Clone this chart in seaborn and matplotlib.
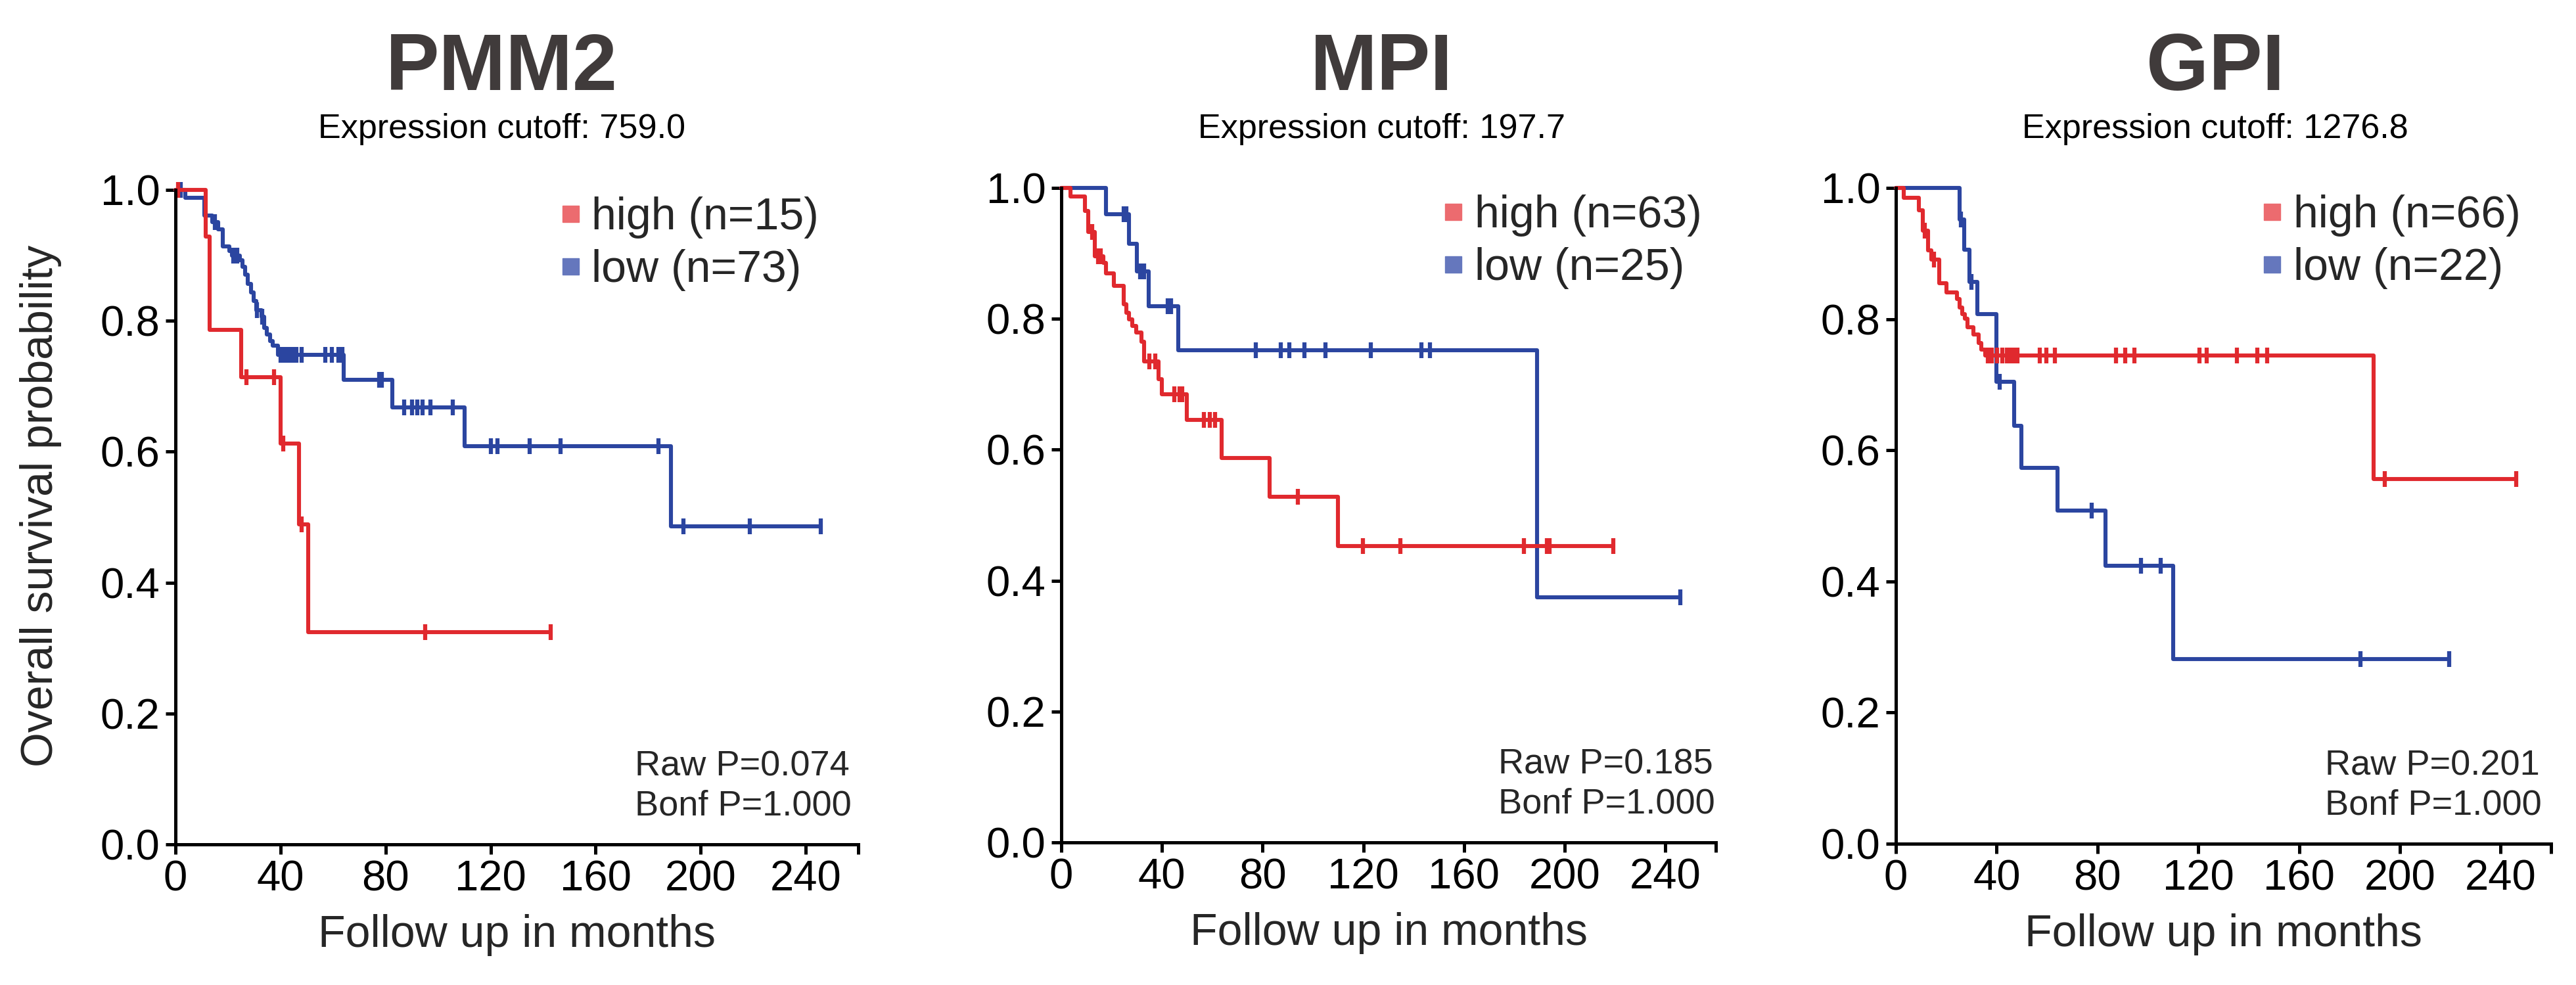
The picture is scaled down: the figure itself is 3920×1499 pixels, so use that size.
import numpy as np
import matplotlib.pyplot as plt
import seaborn as sns
from matplotlib.lines import Line2D

# ================================
# DATA
# ================================

genes = ["PMM2", "MPI", "GPI"]
cutoffs = ["759.0", "197.7", "1276.8"]
n_high = [15, 63, 66]
n_low = [73, 25, 22]
raw_p = ["0.074", "0.185", "0.201"]
bonf_p = ["1.000", "1.000", "1.000"]

# PMM2
pmm2_high_t = [0, 11.6, 13, 25, 40, 47, 50.5, 143]
pmm2_high_s = [1.0, 0.929, 0.786, 0.714, 0.612, 0.489, 0.324, 0.324]
pmm2_high_cens = [1, 27, 37.6, 41, 48, 95, 143]

pmm2_low_t = [0, 3.7, 11, 14, 16.2, 17.9, 20.4, 21.4, 24.5, 25.6, 26.6, 27.6,
              28.7, 29.7, 30.7, 32.8, 33.9, 34.9, 36, 37, 39, 64, 82.7, 110,
              188.6, 245.7]
pmm2_low_s = [1.0, 0.988, 0.961, 0.951, 0.94, 0.914, 0.907, 0.90, 0.893, 0.883,
              0.87, 0.856, 0.843, 0.83, 0.816, 0.806, 0.789, 0.779, 0.769, 0.762,
              0.748, 0.71, 0.668, 0.608, 0.486, 0.486]
pmm2_low_cens = [2, 15, 22, 23.5, 31, 33, 40, 41.5, 43, 44.5, 46, 48, 57, 59.5,
                 62, 63.5, 77.5, 78.5, 87, 90, 92, 94, 97, 105.5, 120, 122.5,
                 135, 146.7, 184, 193.4, 218.7, 245.7]

# MPI
mpi_high_t = [0, 3.7, 9.5, 10.8, 13.4, 16.7, 17.7, 21, 24.9, 25.8, 26.8, 28.1,
              29.7, 31.8, 32.9, 38.7, 40, 49.8, 63.8, 82.7, 110, 219.2]
mpi_high_s = [1.0, 0.987, 0.965, 0.933, 0.896, 0.886, 0.869, 0.85, 0.822, 0.809,
              0.799, 0.789, 0.779, 0.765, 0.735, 0.708, 0.685, 0.646, 0.587,
              0.528, 0.453, 0.453]
mpi_high_cens = [12.3, 14.5, 15.6, 35, 37.2, 44.8, 47, 48, 56.7, 58.9, 61, 94.1,
                 119.9, 134.6, 183.9, 193, 194, 219.2]

mpi_low_t = [0, 17.7, 26.8, 30.1, 34.6, 46.5, 189, 246]
mpi_low_s = [1.0, 0.96, 0.915, 0.872, 0.819, 0.752, 0.374, 0.374]
mpi_low_cens = [24.7, 25.8, 31.4, 32.9, 42.2, 43.7, 77.3, 87.2, 90.7, 96.7, 105,
                123, 143, 146.5, 246]

# GPI
gpi_high_t = [0, 3.2, 9.1, 10.6, 12.7, 14.2, 17.3, 20.1, 24.3, 25.4, 26.4, 27.5,
              28.5, 30.7, 32.8, 33.8, 35.5, 189.7, 246.3]
gpi_high_s = [1.0, 0.985, 0.966, 0.935, 0.905, 0.891, 0.855, 0.841, 0.831, 0.818,
              0.808, 0.801, 0.788, 0.777, 0.764, 0.754, 0.744, 0.556, 0.556]
gpi_high_cens = [11.6, 15.2, 36.4, 38.1, 40.2, 42.3, 44, 45.5, 47, 48.2, 57.1,
                 59.8, 63, 87.3, 90.9, 94.7, 120.5, 123.3, 135.3, 143.4, 147.4,
                 193.9, 246.3]

gpi_low_t = [0, 25.4, 27.1, 29.2, 32.4, 39.8, 46.9, 49.7, 64.1, 83.1, 110, 219.5]
gpi_low_s = [1.0, 0.952, 0.906, 0.857, 0.808, 0.704, 0.637, 0.573, 0.508, 0.424,
             0.282, 0.282]
gpi_low_cens = [25.8, 30, 41.2, 77.6, 97.3, 105.1, 184.4, 219.5]

curves = [
    ((pmm2_high_t, pmm2_high_s, pmm2_high_cens), (pmm2_low_t, pmm2_low_s, pmm2_low_cens)),
    ((mpi_high_t, mpi_high_s, mpi_high_cens), (mpi_low_t, mpi_low_s, mpi_low_cens)),
    ((gpi_high_t, gpi_high_s, gpi_high_cens), (gpi_low_t, gpi_low_s, gpi_low_cens)),
]

x_ticks = [0, 40, 80, 120, 160, 200, 240]
y_ticks = [0.0, 0.2, 0.4, 0.6, 0.8, 1.0]

# ================================
# STYLE / LAYOUT
# ================================

sns.set_style("ticks")
plt.rcParams['font.family'] = ['Liberation Sans', 'DejaVu Sans']

RED = "#e0292e"
BLUE = "#2b45a0"
RED_LEG = "#ec6b6f"
BLUE_LEG = "#6577bd"
TITLE_COL = "#403b3b"

W, H = 3920, 1499
# axes boxes in pixels: left, top, right, bottom
boxes = [(267, 289, 1306, 1285), (1615, 286, 2611, 1282), (2885, 286, 3882, 1284)]
title_x = [763, 2102, 3371]
legend_x = [0.565, 0.585, 0.56]
ptext_x = [0.673, 0.668, 0.655]

fig = plt.figure(figsize=(W / 100, H / 100), dpi=100)


def surv_at(t, s, when):
    idx = np.searchsorted(t, when, side="right") - 1
    return np.asarray(s)[idx]


for i, gene in enumerate(genes):
    l, t, r, b = boxes[i]
    ax = fig.add_axes([l / W, 1 - b / H, (r - l) / W, (b - t) / H])

    for (tt, ss, cc), col in [(curves[i][1], BLUE), (curves[i][0], RED)]:
        sns.lineplot(x=tt, y=ss, drawstyle="steps-post", color=col, lw=4.4,
                     estimator=None, sort=False, ax=ax, clip_on=False)
        sns.lineplot(x=cc, y=surv_at(tt, ss, cc), linestyle="", marker="|",
                     markersize=17, markeredgewidth=4.5, markeredgecolor=col,
                     color=col, estimator=None, sort=False, ax=ax, clip_on=False)

    ax.set_xlim(0, 260)
    ax.set_ylim(0, 1)
    ax.set_xticks(x_ticks + [260])
    ax.set_xticklabels([str(v) for v in x_ticks] + [""])
    ax.set_yticks(y_ticks)
    ax.set_yticklabels([f"{v:.1f}" for v in y_ticks])
    sns.despine(ax=ax)
    for sp in ["left", "bottom"]:
        ax.spines[sp].set_linewidth(3.6)
        ax.spines[sp].set_color("black")
    ax.tick_params(length=11, width=3.6, labelsize=47, pad=6, colors="black")

    ax.set_xlabel("Follow up in months", fontsize=49, labelpad=16)
    if i == 0:
        ax.set_ylabel("Overall survival probability", fontsize=49)
        ax.yaxis.label.set_va("center")
        ax.yaxis.set_label_coords(-0.197, 0.517)
    else:
        ax.set_ylabel("")

    handles = [
        Line2D([], [], ls="", marker="s", markersize=18, color=RED_LEG),
        Line2D([], [], ls="", marker="s", markersize=18, color=BLUE_LEG),
    ]
    ax.legend(handles, [f"high (n={n_high[i]})", f"low (n={n_low[i]})"],
              loc="upper left", bbox_to_anchor=(legend_x[i], 0.99),
              frameon=False, fontsize=49, handlelength=0.4, handletextpad=0.28,
              labelspacing=0.24, borderaxespad=0, borderpad=0)

    ax.text(ptext_x[i], 0.105, f"Raw P={raw_p[i]}", transform=ax.transAxes,
            fontsize=39, ha="left", va="baseline")
    ax.text(ptext_x[i], 0.045, f"Bonf P={bonf_p[i]}", transform=ax.transAxes,
            fontsize=39, ha="left", va="baseline")

    fig.text(title_x[i] / W, 1 - 137 / H, gene, fontsize=88, weight="bold",
             color=TITLE_COL, ha="center", va="baseline")
    fig.text(title_x[i] / W, 1 - 210 / H, f"Expression cutoff: {cutoffs[i]}",
             fontsize=37.5, color="black", ha="center", va="baseline")

fig.savefig("out.png", dpi=100)
